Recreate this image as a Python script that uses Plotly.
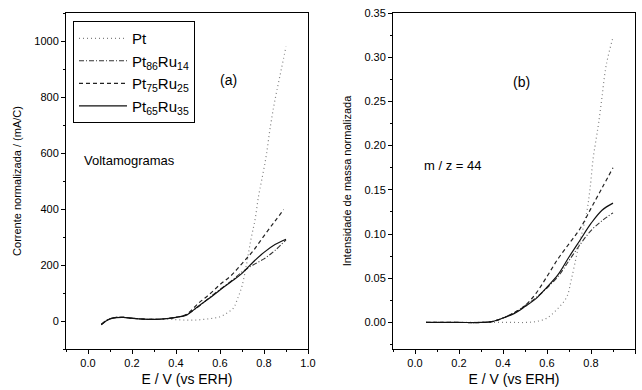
import plotly.graph_objects as go

# ---------------- data: panel (a) voltammograms ----------------
a_pt_x = [0.06, 0.08, 0.10, 0.13, 0.16, 0.20, 0.25, 0.30, 0.35, 0.40, 0.45, 0.50, 0.55, 0.60, 0.63, 0.66,
          0.68, 0.70, 0.72, 0.74, 0.76, 0.775, 0.79, 0.81, 0.83, 0.85, 0.875, 0.90]
a_pt_y = [-12, 0, 8, 13, 13, 10, 7, 6, 6, 5, 3, 4, 8, 15, 28, 45,
          80, 125, 200, 289, 365, 445, 505, 590, 700, 790, 885, 980]

a_x = [0.06, 0.08, 0.10, 0.13, 0.16, 0.20, 0.25, 0.30, 0.35, 0.40, 0.45, 0.50, 0.55, 0.60,
       0.65, 0.70, 0.75, 0.80, 0.85, 0.90]
a_ru14_y = [-12, 0, 8, 13, 13, 10, 7, 6, 8, 13, 24, 50, 82, 113, 142, 175, 200, 222, 252, 290]
a_ru35_y = [-14, -1, 7, 12, 13, 10, 7, 6, 8, 13, 22, 52, 80, 111, 140, 170, 210, 245, 273, 292]

a_ru25_x = [0.06, 0.08, 0.10, 0.13, 0.16, 0.20, 0.25, 0.30, 0.35, 0.40, 0.45, 0.50, 0.55, 0.60,
            0.65, 0.70, 0.75, 0.80, 0.85, 0.89]
a_ru25_y = [-12, 0, 8, 13, 13, 10, 7, 6, 8, 13, 25, 62, 94, 130, 162, 205, 250, 304, 357, 398]

# ---------------- data: panel (b) m/z = 44 ----------------
b_pt_x = [0.05, 0.10, 0.20, 0.30, 0.35, 0.40, 0.45, 0.50, 0.55, 0.60, 0.65, 0.69, 0.71, 0.74,
          0.78, 0.795, 0.81, 0.825, 0.835, 0.85, 0.865, 0.875, 0.895, 0.90]
b_pt_y = [0.0, 0.0, 0.0, 0.0, 0.0, 0.0, 0.0, 0.0, 0.001, 0.005, 0.016, 0.029, 0.048, 0.082,
          0.124, 0.150, 0.186, 0.210, 0.226, 0.255, 0.285, 0.298, 0.318, 0.322]

b_x = [0.05, 0.10, 0.20, 0.30, 0.35, 0.40, 0.45, 0.50, 0.55, 0.60, 0.65, 0.70, 0.75, 0.80, 0.85, 0.90]
b_ru14_y = [0.0, 0.0, 0.0, 0.0, 0.001, 0.005, 0.011, 0.019, 0.028, 0.039, 0.052, 0.070, 0.088, 0.104, 0.115, 0.124]
b_ru25_y = [0.0, 0.0, 0.0, 0.0, 0.001, 0.005, 0.011, 0.019, 0.033, 0.052, 0.072, 0.089, 0.106, 0.129, 0.152, 0.175]
b_ru35_y = [0.0, 0.0, 0.0, 0.0, 0.001, 0.005, 0.010, 0.018, 0.027, 0.040, 0.054, 0.074, 0.093, 0.112, 0.127, 0.135]

names = ["Pt", "Pt<sub>86</sub>Ru<sub>14</sub>", "Pt<sub>75</sub>Ru<sub>25</sub>", "Pt<sub>65</sub>Ru<sub>35</sub>"]
styles = [dict(color="#808080", width=1.2, dash="1px,3px"),
          dict(color="#333333", width=1.1, dash="5px,2px,1px,2px"),
          dict(color="#222222", width=1.2, dash="4px,3px"),
          dict(color="#111111", width=1.2)]

FONT = "Liberation Sans, Arial, sans-serif"
fig = go.Figure()

a_series = [(a_pt_x, a_pt_y), (a_x, a_ru14_y), (a_ru25_x, a_ru25_y), (a_x, a_ru35_y)]
b_series = [(b_pt_x, b_pt_y), (b_x, b_ru14_y), (b_x, b_ru25_y), (b_x, b_ru35_y)]

for i, (xs, ys) in enumerate(a_series):
    fig.add_trace(go.Scatter(x=xs, y=ys, mode="lines", name=names[i], line=styles[i],
                             line_shape="spline", xaxis="x", yaxis="y", showlegend=True))
for i, (xs, ys) in enumerate(b_series):
    fig.add_trace(go.Scatter(x=xs, y=ys, mode="lines", name=names[i], line=styles[i],
                             line_shape="spline", xaxis="x2", yaxis="y2", showlegend=False))

axis_common = dict(showline=True, linecolor="black", linewidth=1, mirror=True, ticks="outside",
                   ticklen=4, tickcolor="black", showgrid=False, zeroline=False, automargin=False,
                   tickfont=dict(family=FONT, size=11, color="black"))

fig.update_layout(
    width=642, height=390,
    margin=dict(l=66, r=7, t=13, b=41),
    paper_bgcolor="white", plot_bgcolor="white",
    font=dict(family=FONT, color="black"),
    xaxis=dict(domain=[0, 0.4253], range=[-0.1, 1.0], dtick=0.2, tick0=0, tickformat=".1f",
               minor=dict(dtick=0.1, ticks="outside", ticklen=2, tickcolor="black"),
               title=dict(text="E / V (vs ERH)", font=dict(family=FONT, size=14), standoff=5),
               **axis_common),
    yaxis=dict(domain=[0, 1], range=[-100, 1100], dtick=200, tick0=0,
               minor=dict(dtick=100, ticks="outside", ticklen=2, tickcolor="black"),
               title=dict(text="Corrente normalizada / (mA/C)", font=dict(family=FONT, size=11), standoff=10),
               **axis_common),
    xaxis2=dict(domain=[0.5747, 1.0], range=[-0.1, 1.0], dtick=0.2, tick0=0, tickformat=".1f",
                anchor="y2",
                minor=dict(dtick=0.1, ticks="outside", ticklen=2, tickcolor="black"),
                title=dict(text="E / V (vs ERH)", font=dict(family=FONT, size=14), standoff=5),
                **axis_common),
    yaxis2=dict(domain=[0, 1], range=[-0.03, 0.35], dtick=0.05, tick0=0, tickformat=".2f",
                anchor="x2",
                minor=dict(dtick=0.025, ticks="outside", ticklen=2, tickcolor="black"),
                title=dict(text="Intensidade de massa normalizada", font=dict(family=FONT, size=11), standoff=10),
                **axis_common),
    legend=dict(x=0.0123, y=0.976, xanchor="left", yanchor="top", bordercolor="black", borderwidth=1,
                bgcolor="white", font=dict(family=FONT, size=15), tracegroupgap=0, itemwidth=48),
    showlegend=True,
    annotations=[
        dict(text="(a)", x=0.64, y=861, xref="x", yref="y", showarrow=False,
             font=dict(family=FONT, size=14)),
        dict(text="Voltamogramas", x=-0.027, y=575, xref="x", yref="y", xanchor="left", showarrow=False,
             font=dict(family=FONT, size=13)),
        dict(text="(b)", x=0.486, y=0.272, xref="x2", yref="y2", showarrow=False,
             font=dict(family=FONT, size=14)),
        dict(text="m / z = 44", x=0.032, y=0.177, xref="x2", yref="y2", xanchor="left", showarrow=False,
             font=dict(family=FONT, size=13)),
    ],
)

fig.write_html("out.html", post_script="document.body.style.margin='0';",
               config={"displayModeBar": False})
